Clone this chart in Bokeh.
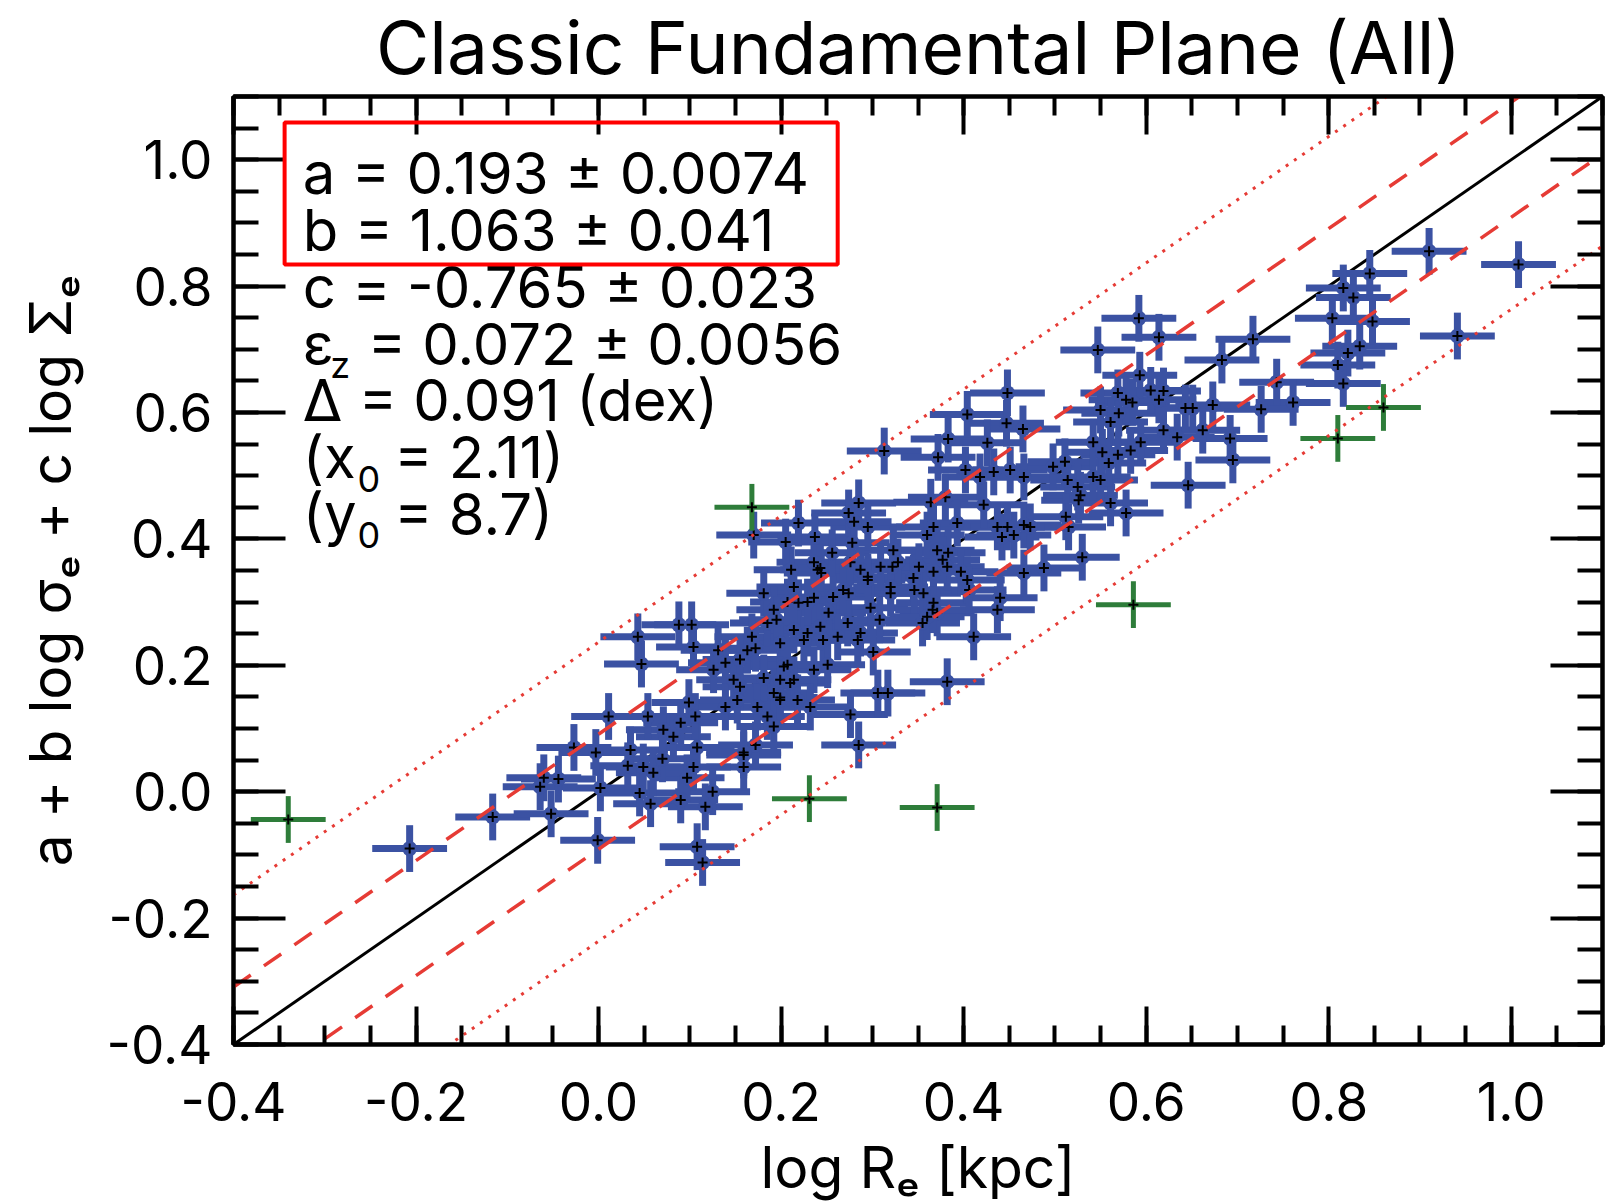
import numpy as np
from bokeh.plotting import figure
from bokeh.models import (ColumnDataSource, LinearAxis, SingleIntervalTicker,
                          PrintfTickFormatter, CustomJSTickFormatter, Label,
                          BoxAnnotation, Range1d)
from bokeh.embed import file_html
from bokeh.resources import INLINE

# ---------------- data ----------------
TITLE = "Classic Fundamental Plane (All)"
X_LABEL = "log Rₑ [kpc]"
Y_LABEL = "a + b log σₑ + c log Σₑ"
X_RANGE = (-0.4, 1.1)
Y_RANGE = (-0.4, 1.1)
TICK_STEP = 0.2
MINOR_INTERVALS = 4

# galaxies used in the fit (blue)
blue_x = [-0.207, -0.116, -0.052, -0.060, -0.044, -0.064, -0.001, 0.002, 0.045, 0.057,
          0.090, 0.117, 0.125, 0.097, 0.060, 0.070, 0.032, 0.035, -0.003, -0.027,
          0.108, 0.159, 0.159, 0.172, 0.108, 0.114, 0.011, 0.047, 0.043, 0.088,
          0.104, 0.131, 0.139, 0.126, 0.148, 0.155, 0.099, 0.106, 0.090, 0.139,
          0.152, 0.174, 0.185, 0.192, 0.082, 0.071, 0.054, 0.181, 0.192, 0.214,
          0.219, 0.236, 0.257, 0.274, 0.295, 0.240, 0.298, 0.252, 0.273, 0.214,
          0.229, 0.199, 0.246, 0.284, 0.301, 0.251, 0.203, 0.236, 0.181, 0.210,
          0.192, 0.199, 0.218, 0.232, 0.276, 0.285, 0.306, 0.317, 0.163, 0.155,
          0.382, 0.185, 0.225, 0.243, 0.262, 0.287, 0.168, 0.195, 0.211, 0.244,
          0.256, 0.278, 0.322, 0.320, 0.308, 0.170, 0.219, 0.205, 0.236, 0.276,
          0.287, 0.323, 0.345, 0.371, 0.367, 0.382, 0.397, 0.404, 0.356, 0.367,
          0.355, 0.371, 0.406, 0.383, 0.360, 0.442, 0.466, 0.360, 0.285, 0.274,
          0.295, 0.364, 0.380, 0.422, 0.367, 0.393, 0.437, 0.473, 0.237, 0.448,
          0.404, 0.447, 0.465, 0.383, 0.426, 0.313, 0.372, 0.402, 0.418, 0.433,
          0.451, 0.466, 0.498, 0.514, 0.525, 0.542, 0.512, 0.561, 0.578, 0.530,
          0.550, 0.561, 0.585, 0.614, 0.594, 0.569, 0.542, 0.605, 0.488, 0.466,
          0.440, 0.437, 0.411, 0.592, 0.547, 0.593, 0.569, 0.910, 1.008, 0.941,
          0.845, 0.816, 0.827, 0.804, 0.848, 0.834, 0.821, 0.810, 0.816, 0.614,
          0.717, 0.683, 0.743, 0.761, 0.726, 0.619, 0.643, 0.651, 0.673, 0.619,
          0.634, 0.662, 0.692, 0.695, 0.646, 0.559, 0.511, 0.526,
          0.528, 0.550, 0.515, 0.570, 0.583, 0.552, 0.455, 0.328, 0.377, 0.243,
          0.366, 0.351, 0.346, 0.280, 0.207, 0.229, 0.207, 0.199, 0.214, 0.199,
          0.102, 0.268, 0.578, 0.049, 0.104, 0.159, 0.448, 0.295, 0.172, 0.309,
          0.320]
blue_y = [-0.090, -0.040, -0.035, 0.022, 0.020, 0.008, -0.077, 0.006, -0.002, -0.019,
          -0.013, -0.024, 0.000, 0.022, 0.030, 0.052, 0.041, 0.066, 0.062, 0.070,
          0.070, 0.058, 0.039, 0.074, -0.087, -0.112, 0.119, 0.202, 0.245, 0.264,
          0.229, 0.224, 0.204, 0.193, 0.177, 0.166, 0.141, 0.119, 0.109, 0.134,
          0.145, 0.134, 0.119, 0.103, 0.087, 0.098, 0.119, 0.314, 0.288, 0.324,
          0.299, 0.307, 0.308, 0.314, 0.335, 0.351, 0.291, 0.283, 0.267, 0.256,
          0.251, 0.235, 0.240, 0.240, 0.221, 0.201, 0.198, 0.193, 0.180, 0.172,
          0.156, 0.145, 0.145, 0.134, 0.122, 0.074, 0.156, 0.156, 0.224, 0.209,
          0.174, 0.267, 0.240, 0.261, 0.245, 0.251, 0.245, 0.272, 0.351, 0.346,
          0.378, 0.394, 0.356, 0.314, 0.272, 0.406, 0.425, 0.395, 0.363, 0.363,
          0.351, 0.382, 0.338, 0.382, 0.348, 0.356, 0.348, 0.335, 0.314, 0.299,
          0.267, 0.283, 0.319, 0.378, 0.406, 0.403, 0.422, 0.277, 0.457, 0.441,
          0.419, 0.458, 0.466, 0.454, 0.419, 0.425, 0.419, 0.419, 0.403, 0.631,
          0.597, 0.583, 0.574, 0.558, 0.552, 0.539, 0.529, 0.509, 0.498, 0.506,
          0.509, 0.498, 0.514, 0.493, 0.482, 0.498, 0.435, 0.457, 0.441, 0.371,
          0.604, 0.585, 0.616, 0.620, 0.553, 0.533, 0.553, 0.635, 0.354, 0.346,
          0.307, 0.288, 0.245, 0.749, 0.699, 0.659, 0.631, 0.855, 0.834, 0.721,
          0.820, 0.797, 0.782, 0.749, 0.744, 0.705, 0.694, 0.675, 0.646, 0.719,
          0.716, 0.683, 0.648, 0.616, 0.605, 0.634, 0.607, 0.607, 0.612, 0.572,
          0.561, 0.572, 0.559, 0.525, 0.485, 0.520, 0.522, 0.461,
          0.469, 0.493, 0.419, 0.599, 0.540, 0.537, 0.406, 0.363, 0.367, 0.354,
          0.288, 0.356, 0.319, 0.427, 0.300, 0.300, 0.201, 0.177, 0.177, 0.149,
          0.264, 0.319, 0.620, 0.039, 0.039, 0.062, 0.419, 0.340, 0.227, 0.356,
          0.324]

# outliers excluded from the fit (green)
green_x = [-0.340, 0.168, 0.231, 0.371, 0.586, 0.810, 0.860]
green_y = [-0.044, 0.450, -0.011, -0.025, 0.296, 0.559, 0.608]

X_ERR = 0.041
Y_ERR = 0.037

DELTA = 0.091          # observed rms scatter (dashed lines)
OUTLIER_SIGMA = 2.6    # dotted lines at 2.6 * Delta

# text block: (main, subscript, rest)
fit_text = [
    ("a = 0.193 ± 0.0074", "", ""),
    ("b = 1.063 ± 0.041", "", ""),
    ("c = -0.765 ± 0.023", "", ""),
    ("ε", "z", "= 0.072 ± 0.0056"),
    ("Δ = 0.091 (dex)", "", ""),
    ("(x", "0", "= 2.11)"),
    ("(y", "0", "= 8.7)"),
]

# ---------------- styling ----------------
FONT = "Inter"
BLUE = "#3B52A3"
GREEN = "#2E7D3A"
RED = "#E63B35"
PX = 1.0 / 632.7       # data units per pixel (vertical)
MID = 0.363            # label anchor offset above the glyph baseline, in em


def anchor(baseline, size):
    return baseline + MID * size * PX


p = figure(width=1617, height=1204,
           x_range=Range1d(*X_RANGE), y_range=Range1d(*Y_RANGE),
           output_backend="svg", toolbar_location=None,
           min_border_left=233, min_border_right=15,
           min_border_top=96, min_border_bottom=159,
           background_fill_color="white", border_fill_color="white")
p.title.visible = False
p.xgrid.visible = False
p.ygrid.visible = False
p.outline_line_color = "black"
p.outline_line_width = 4


def make_ticker():
    return SingleIntervalTicker(interval=TICK_STEP, num_minor_ticks=MINOR_INTERVALS)


def style_axis(ax, major_in, minor_in):
    ax.axis_line_color = "black"
    ax.axis_line_width = 4
    ax.major_tick_line_color = "black"
    ax.minor_tick_line_color = "black"
    ax.major_tick_line_width = 4
    ax.minor_tick_line_width = 4
    ax.major_tick_in = major_in
    ax.major_tick_out = 0
    ax.minor_tick_in = minor_in
    ax.minor_tick_out = 0
    ax.major_label_text_font = FONT
    ax.major_label_text_font_size = "53px"
    ax.major_label_text_color = "black"
    ax.axis_label_text_font = FONT
    ax.axis_label_text_font_size = "57px"
    ax.axis_label_text_font_style = "normal"
    ax.axis_label_text_color = "black"


xa = p.xaxis[0]
xa.ticker = make_ticker()
xa.formatter = PrintfTickFormatter(format="%.1f")
xa.axis_label = X_LABEL
style_axis(xa, 38, 19)
xa.major_label_standoff = 37
xa.axis_label_standoff = 9

ya = p.yaxis[0]
ya.ticker = make_ticker()
ya.formatter = PrintfTickFormatter(format="%.1f")
ya.axis_label = Y_LABEL
style_axis(ya, 52, 25)
ya.major_label_standoff = 21
ya.axis_label_standoff = 19

for loc, mi, mn in (("above", 38, 19), ("right", 52, 25)):
    ax = LinearAxis(ticker=make_ticker(),
                    formatter=CustomJSTickFormatter(code="return ''"))
    style_axis(ax, mi, mn)
    ax.major_label_text_font_size = "0px"
    ax.major_label_standoff = 0
    p.add_layout(ax, loc)

# title, placed in the panel above the frame (not clipped there)
TITLE_SIZE = 73
TITLE_BASE = 1.1364
p.add_layout(Label(x=0.3506, y=anchor(TITLE_BASE, TITLE_SIZE), text=TITLE,
                   text_align="center", text_baseline="alphabetic",
                   text_font=FONT, text_font_size=f"{TITLE_SIZE}px",
                   text_color="black"), "above")

# one-to-one relation (under the data)
line_x = list(X_RANGE)
p.line(line_x, line_x, line_color="black", line_width=3)

# data with error bars
bx, by = np.array(blue_x), np.array(blue_y)
bsrc = ColumnDataSource(dict(x=bx, y=by, xl=bx - X_ERR, xr=bx + X_ERR,
                             yb=by - Y_ERR, yt=by + Y_ERR))
p.segment(x0="xl", y0="y", x1="xr", y1="y", source=bsrc,
          line_color=BLUE, line_width=7)
p.segment(x0="x", y0="yb", x1="x", y1="yt", source=bsrc,
          line_color=BLUE, line_width=7)
p.scatter("x", "y", source=bsrc, marker="circle", size=15,
          fill_color=BLUE, line_color=None)
p.scatter("x", "y", source=bsrc, marker="cross", size=10,
          line_color="black", line_width=2)

gx, gy = np.array(green_x), np.array(green_y)
gsrc = ColumnDataSource(dict(x=gx, y=gy, xl=gx - X_ERR, xr=gx + X_ERR,
                             yb=gy - Y_ERR, yt=gy + Y_ERR))
p.segment(x0="xl", y0="y", x1="xr", y1="y", source=gsrc,
          line_color=GREEN, line_width=5)
p.segment(x0="x", y0="yb", x1="x", y1="yt", source=gsrc,
          line_color=GREEN, line_width=5)
p.scatter("x", "y", source=gsrc, marker="cross", size=10,
          line_color="black", line_width=2)

# scatter bands (over the data)
for off in (DELTA, -DELTA):
    p.line(line_x, [v + off for v in line_x], line_color=RED, line_width=3.5,
           line_dash="21 16")
for off in (OUTLIER_SIGMA * DELTA, -OUTLIER_SIGMA * DELTA):
    p.line(line_x, [v + off for v in line_x], line_color=RED, line_width=3,
           line_dash="3 7")

# fit results text
MAIN_SIZE = 58
SUB_SIZE = 36
TEXT_X = -0.324
BASE0 = 0.945          # baseline of the first line (data units)
LINE_STEP = 0.0897
SUB_DROP = 0.022       # subscript baseline below the main baseline
SUB_X = {"z": -0.294, "0": -0.264}
REST_X = {"z": -0.253, "0": -0.224}
for i, (main, sub, rest) in enumerate(fit_text):
    base = BASE0 - i * LINE_STEP
    p.add_layout(Label(x=TEXT_X, y=anchor(base, MAIN_SIZE), text=main,
                       text_baseline="alphabetic", text_font=FONT,
                       text_font_size=f"{MAIN_SIZE}px", text_color="black"))
    if sub:
        p.add_layout(Label(x=SUB_X[sub], y=anchor(base - SUB_DROP, SUB_SIZE), text=sub,
                           text_baseline="alphabetic", text_font=FONT,
                           text_font_size=f"{SUB_SIZE}px", text_color="black"))
        p.add_layout(Label(x=REST_X[sub], y=anchor(base, MAIN_SIZE), text=rest,
                           text_baseline="alphabetic", text_font=FONT,
                           text_font_size=f"{MAIN_SIZE}px", text_color="black"))

# highlight box around a and b
p.add_layout(BoxAnnotation(left=-0.344, right=0.262, bottom=0.834, top=1.059,
                           fill_color=None, fill_alpha=0,
                           line_color="#FF0000", line_alpha=1.0, line_width=4))

open("out.html", "w").write(file_html(p, INLINE))
